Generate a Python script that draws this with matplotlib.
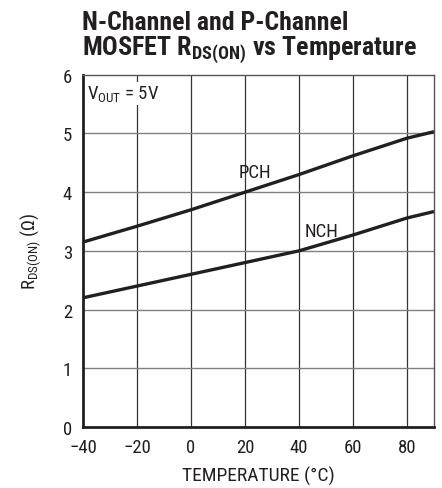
import matplotlib.pyplot as plt

plt.rcParams['font.family'] = ['Liberation Sans Narrow', 'Roboto Condensed', 'Liberation Sans', 'DejaVu Sans']

temp = [-40, -20, 0, 20, 40, 60, 80, 90]
pch = [3.15, 3.42, 3.70, 4.00, 4.30, 4.62, 4.92, 5.03]
nch = [2.20, 2.40, 2.60, 2.80, 3.00, 3.27, 3.56, 3.67]
xticks = [-40, -20, 0, 20, 40, 60, 80]
xticklabels = ['\u221240', '\u221220', '0', '20', '40', '60', '80']
yticks = [0, 1, 2, 3, 4, 5, 6]

ink = '#231f20'
fig = plt.figure(figsize=(4.42, 4.89), dpi=100)
ax = fig.add_axes([0.188, 0.125, 0.794, 0.720])

ax.plot(temp, pch, color=ink, lw=2.4, solid_capstyle='butt')
ax.plot(temp, nch, color=ink, lw=2.4, solid_capstyle='butt')

ax.set_xlim(-40, 90)
ax.set_ylim(0, 6)
ax.set_xticks(xticks)
ax.set_xticklabels(xticklabels)
ax.set_yticks(yticks)
for x in xticks[1:]:
    ax.axvline(x, color='#333333', lw=0.9, zorder=0)
for y in yticks[1:-1]:
    ax.axhline(y, color='#808080', lw=1.0, zorder=0)
ax.tick_params(length=0, labelsize=13.5, colors=ink)
ax.tick_params(axis='x', pad=8)
ax.tick_params(axis='y', pad=8)

for side in ['left', 'bottom']:
    ax.spines[side].set_linewidth(2.0)
    ax.spines[side].set_color(ink)
for side in ['top', 'right']:
    ax.spines[side].set_linewidth(1.0)
    ax.spines[side].set_color('#555555')

ax.text(17.5, 4.25, 'PCH', fontsize=13.5, color=ink)
ax.text(42, 3.25, 'NCH', fontsize=13.5, color=ink)
ax.text(-38.5, 5.6, r'V$_{\mathregular{OUT}}$ = 5V', fontsize=13.5, color=ink,
        bbox=dict(facecolor='white', edgecolor='none', pad=1))

ax.set_xlabel('TEMPERATURE (\u00b0C)', fontsize=14, color=ink, labelpad=7)
ax.set_ylabel('R$_{\\mathregular{DS(ON)}}$ (\u03a9)', fontsize=13.5, color=ink, labelpad=14)

fig.text(0.186, 0.939, 'N-Channel and P-Channel', fontsize=18.5, fontweight='bold',
         color=ink, va='baseline')
fig.text(0.186, 0.886, r'MOSFET R$_{\mathregular{DS(ON)}}$ vs Temperature', fontsize=18.7,
         fontweight='bold', color=ink, va='baseline')

fig.savefig('out.png', dpi=100)
